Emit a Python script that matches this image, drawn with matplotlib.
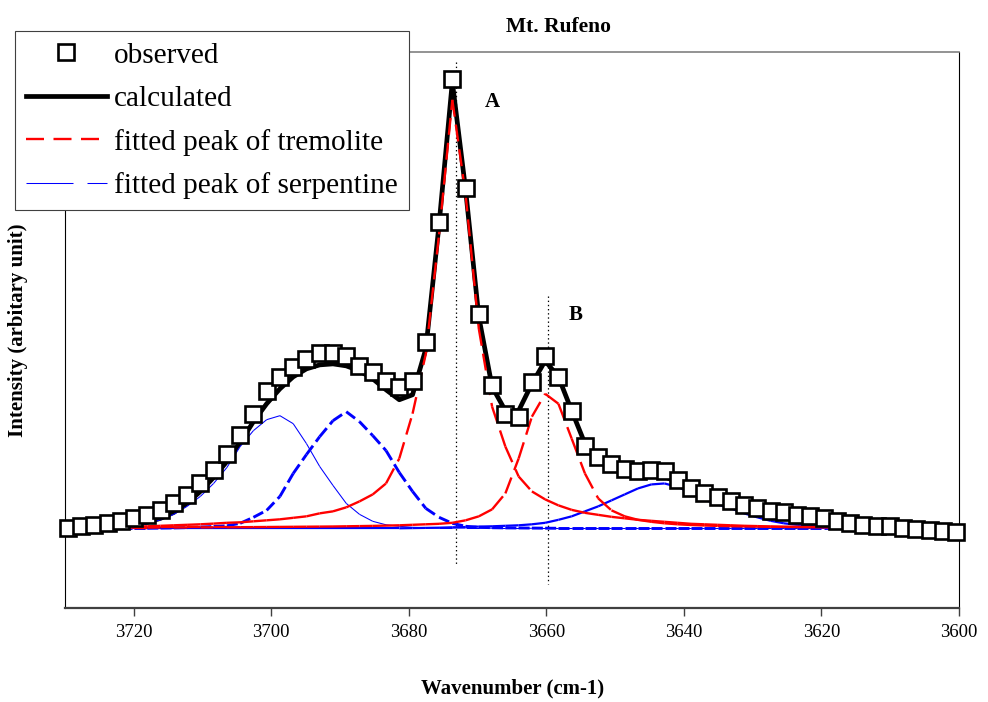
import numpy as np
import matplotlib
matplotlib.use("Agg")
import matplotlib.pyplot as plt
from matplotlib.collections import LineCollection
from matplotlib.lines import Line2D

plt.rcParams['font.family'] = ['Liberation Serif', 'DejaVu Serif']
plt.rcParams['lines.scale_dashes'] = False

# wavenumber grid of the spectrum (cm-1), 68 points
wavenumber = np.linspace(3729.6, 3600.4, 68)

observed = [0.000, 0.002, 0.003, 0.005, 0.007, 0.010, 0.013, 0.018, 0.025, 0.033,
            0.045, 0.058, 0.075, 0.094, 0.115, 0.138, 0.152, 0.162, 0.170, 0.176,
            0.176, 0.173, 0.163, 0.157, 0.148, 0.142, 0.148, 0.187, 0.307, 0.451,
            0.342, 0.215, 0.144, 0.115, 0.112, 0.147, 0.173, 0.152, 0.118, 0.083,
            0.072, 0.065, 0.060, 0.057, 0.058, 0.057, 0.048, 0.040, 0.035, 0.031,
            0.027, 0.023, 0.020, 0.017, 0.016, 0.013, 0.012, 0.010, 0.007, 0.005,
            0.003, 0.002, 0.002, 0.000, -0.001, -0.002, -0.003, -0.004]

calculated = [0.000, 0.0005, 0.001, 0.0015, 0.0025, 0.004, 0.006, 0.010, 0.016, 0.025,
              0.037, 0.051, 0.067, 0.086, 0.107, 0.125, 0.140, 0.152, 0.160, 0.164,
              0.165, 0.163, 0.158, 0.150, 0.139, 0.129, 0.134, 0.180, 0.305, 0.448,
              0.340, 0.212, 0.142, 0.118, 0.118, 0.145, 0.168, 0.152, 0.118, 0.085,
              0.068, 0.060, 0.056, 0.054, 0.054, 0.052, 0.046, 0.040, 0.035, 0.031,
              0.027, 0.023, 0.020, 0.017, 0.015, 0.013, 0.011, 0.009, 0.007, 0.005,
              0.004, 0.003, 0.002, 0.001, 0.0005, 0.000, 0.000, 0.000]

# tremolite peak A (~3674 cm-1)
trem_a = [0.0002, 0.0005, 0.0007, 0.001, 0.0012, 0.0015, 0.002, 0.0025, 0.003, 0.0035,
          0.004, 0.0047, 0.0055, 0.006, 0.007, 0.008, 0.009, 0.0105, 0.012, 0.015,
          0.017, 0.021, 0.027, 0.034, 0.045, 0.070, 0.115, 0.175, 0.295, 0.430,
          0.335, 0.200, 0.122, 0.082, 0.052, 0.037, 0.029, 0.023, 0.0185, 0.0155,
          0.0135, 0.0115, 0.010, 0.0085, 0.0075, 0.0065, 0.0055, 0.0045, 0.004, 0.0035,
          0.003, 0.0025, 0.0022, 0.0018, 0.0015, 0.0014, 0.0013, 0.0012, 0.0011, 0.001,
          0.0009, 0.0008, 0.0007, 0.0006, 0.0006, 0.0005, 0.0005, 0.0005]

# tremolite peak B (~3660 cm-1)
trem_b = [0.0005, 0.0005, 0.0005, 0.0006, 0.0006, 0.0007, 0.0007, 0.0008, 0.0008, 0.0009,
          0.0009, 0.001, 0.001, 0.0011, 0.0012, 0.0013, 0.0014, 0.0015, 0.0016, 0.0017,
          0.0018, 0.002, 0.0022, 0.0024, 0.0027, 0.003, 0.0035, 0.004, 0.0045, 0.0055,
          0.008, 0.012, 0.019, 0.035, 0.070, 0.112, 0.135, 0.125, 0.090, 0.055,
          0.030, 0.018, 0.012, 0.0085, 0.0065, 0.005, 0.004, 0.0033, 0.0028, 0.0024,
          0.0021, 0.0019, 0.0017, 0.0015, 0.0014, 0.0013, 0.0012, 0.0011, 0.001, 0.0009,
          0.0009, 0.0008, 0.0008, 0.0007, 0.0007, 0.0006, 0.0006, 0.0005]

# serpentine peaks
serp_1 = [0.000, 0.0002, 0.0004, 0.0007, 0.001, 0.002, 0.0045, 0.0085, 0.014, 0.022,
          0.032, 0.045, 0.061, 0.082, 0.098, 0.109, 0.113, 0.105, 0.085, 0.062,
          0.043, 0.025, 0.014, 0.007, 0.0035, 0.002, 0.001, 0.0005, 0.0003, 0.0003,
          0.0002, 0.0002, 0.0001, 0.0001, 0.0001, 0.000, 0.000, 0.000, 0.000, 0.000,
          0.000, 0.000, 0.000, 0.000, 0.000, 0.000, 0.000, 0.000, 0.000, 0.000,
          0.000, 0.000, 0.000, 0.000, 0.000, 0.000, 0.000, 0.000, 0.000, 0.000,
          0.000, 0.000, 0.000, 0.000, 0.000, 0.000, 0.000, 0.000]

serp_2 = [0.000, 0.000, 0.000, 0.000, 0.000, 0.000, 0.000, 0.0002, 0.0004, 0.0007,
          0.0012, 0.0018, 0.0025, 0.005, 0.011, 0.018, 0.032, 0.055, 0.074, 0.092,
          0.108, 0.117, 0.107, 0.093, 0.078, 0.056, 0.037, 0.020, 0.011, 0.005,
          0.002, 0.001, 0.0006, 0.0004, 0.0003, 0.0002, 0.0001, 0.000, 0.000, 0.000,
          0.000, 0.000, 0.000, 0.000, 0.000, 0.000, 0.000, 0.000, 0.000, 0.000,
          0.000, 0.000, 0.000, 0.000, 0.000, 0.000, 0.000, 0.000, 0.000, 0.000,
          0.000, 0.000, 0.000, 0.000, 0.000, 0.000, 0.000, 0.000]

serp_3 = [0.000, 0.000, 0.000, 0.000, 0.000, 0.000, 0.000, 0.000, 0.000, 0.000,
          0.000, 0.000, 0.000, 0.000, 0.000, 0.000, 0.000, 0.000, 0.000, 0.000,
          0.000, 0.000, 0.000, 0.000, 0.000, 0.000, 0.0002, 0.0004, 0.0006, 0.001,
          0.0013, 0.0017, 0.002, 0.0025, 0.003, 0.004, 0.0055, 0.0085, 0.012, 0.017,
          0.022, 0.028, 0.034, 0.040, 0.044, 0.045, 0.0415, 0.0355, 0.029, 0.024,
          0.020, 0.015, 0.011, 0.0075, 0.005, 0.0035, 0.0023, 0.0013, 0.0007, 0.0004,
          0.0003, 0.0002, 0.0001, 0.0001, 0.0001, 0.0001, 0.000, 0.000]

peak_pos = [3673.1, 3659.8]
peak_names = ['A', 'B']
xticks = [3720, 3700, 3680, 3660, 3640, 3620, 3600]

PX = 0.72  # points per pixel at dpi 100

fig = plt.figure(figsize=(9.88, 7.02), dpi=100)
ax = fig.add_axes([65 / 988, 1 - 608 / 702, 894 / 988, 556 / 702])


def seg_line(x, y, color, lw, on, off, z):
    # every segment restarts its dash pattern (like the spreadsheet renderer)
    pts = np.column_stack([x, y])
    segs = np.stack([pts[:-1], pts[1:]], axis=1)
    lc = LineCollection(segs, colors=color, linewidths=lw,
                        linestyles=[(0, (on * PX, off * PX))], zorder=z)
    lc.set_capstyle('butt')
    ax.add_collection(lc)


ax.plot(wavenumber, calculated, color='black', lw=3.4, zorder=2,
        solid_joinstyle='round')
seg_line(wavenumber, serp_3, '#0000ff', 1.6, 200, 1, 3)
seg_line(wavenumber, serp_1, '#0000ff', 0.75, 47, 14, 3)
seg_line(wavenumber, serp_2, '#0000ff', 2.1, 11, 5, 3)
seg_line(wavenumber, trem_a, '#ff0000', 1.7, 17, 8, 4)
seg_line(wavenumber, trem_b, '#ff0000', 1.7, 17, 8, 4)
ax.plot(wavenumber, observed, ls='none', marker='s', ms=11.5, mfc='white',
        mec='black', mew=1.9, zorder=6, clip_on=False)

ax.plot([peak_pos[0]] * 2, [0.468, -0.038], color='black', lw=0.9,
        ls=(0, (1, 2)), zorder=1)
ax.plot([peak_pos[1]] * 2, [0.233, -0.056], color='black', lw=0.9,
        ls=(0, (1, 2)), zorder=1)
ax.text(3667.9, 0.428, peak_names[0], fontsize=15, fontweight='bold',
        ha='center', va='center')
ax.text(3655.7, 0.214, peak_names[1], fontsize=15, fontweight='bold',
        ha='center', va='center')

ax.set_xlim(3730, 3600)
ax.set_ylim(-0.080, 0.478)
ax.set_xticks(xticks)
ax.set_xticklabels([str(t) for t in xticks], fontsize=13.5)
ax.set_yticks([])
ax.tick_params(axis='x', direction='out', length=6, width=1, color='#404040', pad=5.5)

ax.spines['top'].set_color('#808080')
ax.spines['top'].set_linewidth(1.2)
ax.spines['right'].set_color('black')
ax.spines['right'].set_linewidth(0.8)
ax.spines['left'].set_color('black')
ax.spines['left'].set_linewidth(0.8)
ax.spines['bottom'].set_color('#404040')
ax.spines['bottom'].set_linewidth(1.6)

fig.text(558 / 988, 1 - 27 / 702, 'Mt. Rufeno', fontsize=15.5, fontweight='bold',
         ha='center', va='center')
fig.text(513 / 988, 1 - 688 / 702, 'Wavenumber (cm-1)', fontsize=15, fontweight='bold',
         ha='center', va='center')
fig.text(18 / 988, 1 - 330 / 702, 'Intensity (arbitary unit)', fontsize=15,
         fontweight='bold', ha='center', va='center', rotation=90)

handles = [
    Line2D([], [], ls='none', marker='s', ms=11.5, mfc='white', mec='black', mew=1.9),
    Line2D([], [], color='black', lw=3.4),
    Line2D([], [], color='#ff0000', lw=1.7, ls=(0, (18 * PX, 9.5 * PX))),
    Line2D([], [], color='#0000ff', lw=0.75, ls=(0, (47 * PX, 14 * PX))),
]
labels = ['observed', 'calculated', 'fitted peak of tremolite', 'fitted peak of serpentine']
leg = ax.legend(handles, labels, loc='upper left', bbox_to_anchor=(15 / 988, 1 - 31 / 702),
                bbox_transform=fig.transFigure, borderaxespad=0, fontsize=21.1,
                frameon=True, fancybox=False, framealpha=1, edgecolor='#404040',
                handlelength=2.75, handletextpad=0.25, labelspacing=0.57,
                borderpad=0.38, numpoints=1)
leg.get_frame().set_linewidth(0.8)
leg.set_zorder(10)

fig.savefig('out.png', dpi=100)
